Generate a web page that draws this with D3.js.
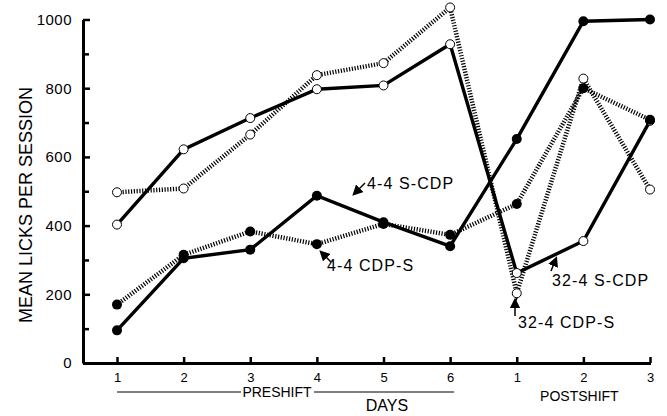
<!DOCTYPE html>
<html>
<head>
<meta charset="utf-8">
<script src="https://cdn.jsdelivr.net/npm/d3@7"></script>
<style>
	body { margin: 0; background: #fff; }
	svg { font-family: "Liberation Sans", Arial, sans-serif; }
</style>
</head>
<body>
<div id="chart"></div>
<script>
// Days: six preshift, three postshift
var dayLabels = ["1", "2", "3", "4", "5", "6", "1", "2", "3"];
var yTicks = [0, 200, 400, 600, 800, 1000];
var yMinorTicks = [100, 300, 500, 700, 900];

// Mean licks per session, one array per group
var s44SCDP = [95, 305, 330, 487, 410, 340, 652, 995, 1000];
var s44CDPS = [170, 315, 383, 346, 405, 373, 463, 800, 708];
var s324SCDP = [403, 622, 713, 797, 808, 928, 262, 355, 705];
var s324CDPS = [497, 508, 665, 838, 873, 1035, 203, 828, 505];

var series = [
	{ name: "32-4 CDP-S", values: s324CDPS, dotted: true, open: true },
	{ name: "32-4 S-CDP", values: s324SCDP, dotted: false, open: true },
	{ name: "4-4 CDP-S", values: s44CDPS, dotted: true, open: false },
	{ name: "4-4 S-CDP", values: s44SCDP, dotted: false, open: false }
];

(function(){
	var width = 667, height = 416;

	var svg = d3.select("#chart").append("svg")
		.attr("width", width)
		.attr("height", height);

	// arrow head
	svg.append("defs").append("marker")
		.attr("id", "head")
		.attr("viewBox", "0 0 10 10")
		.attr("refX", 5).attr("refY", 5)
		.attr("markerWidth", 7).attr("markerHeight", 7)
		.attr("orient", "auto-start-reverse")
		.append("path")
		.attr("d", "M0,0 L10,5 L0,10 z")
		.attr("fill", "#000");

	var x = d3.scaleLinear().domain([0, dayLabels.length - 1]).range([117, 650]);
	var y = d3.scaleLinear().domain([0, 1000]).range([363, 19.5]);

	// Y axis
	var yAxis = svg.append("g")
		.attr("transform", "translate(83,0)")
		.call(d3.axisLeft(y).tickValues(yTicks).tickFormat(d3.format("d"))
			.tickSizeInner(-7).tickSizeOuter(0).tickPadding(11));
	svg.append("g")
		.attr("transform", "translate(83,0)")
		.call(d3.axisLeft(y).tickValues(yMinorTicks).tickSizeInner(-6).tickSizeOuter(0).tickFormat(""))
		.select(".domain").remove();

	// X axis
	var xAxis = svg.append("g")
		.attr("transform", "translate(0,363)")
		.call(d3.axisBottom(x).tickValues(d3.range(dayLabels.length))
			.tickFormat(function(d){ return dayLabels[d]; })
			.tickSizeInner(-6).tickSizeOuter(0).tickPadding(10));
	xAxis.select(".domain").attr("d", "M83,0.5H651");

	svg.selectAll(".domain").attr("stroke-width", 3).attr("stroke", "#000");
	svg.selectAll(".tick line").attr("stroke-width", 2.5).attr("stroke", "#000");
	svg.selectAll(".tick text").attr("font-size", 13).attr("fill", "#000");
	yAxis.selectAll(".tick text").attr("font-size", 15).attr("letter-spacing", 0.5);

	// Y axis title
	svg.append("text")
		.attr("transform", "translate(32,205) rotate(-90)")
		.attr("text-anchor", "middle")
		.attr("font-size", 18)
		.text("MEAN LICKS PER SESSION");

	// PRESHIFT / DAYS / POSTSHIFT
	svg.append("line").attr("x1", x(0)).attr("x2", 241).attr("y1", 392).attr("y2", 392)
		.attr("stroke", "#000").attr("stroke-width", 1.2);
	svg.append("line").attr("x1", 314).attr("x2", x(5) + 4).attr("y1", 392).attr("y2", 392)
		.attr("stroke", "#000").attr("stroke-width", 1.2);
	svg.append("text").attr("x", 277).attr("y", 397).attr("text-anchor", "middle")
		.attr("font-size", 14).text("PRESHIFT");
	svg.append("text").attr("x", 387).attr("y", 411).attr("text-anchor", "middle")
		.attr("font-size", 16).text("DAYS");
	svg.append("text").attr("x", x(7) - 4).attr("y", 401).attr("text-anchor", "middle")
		.attr("font-size", 14).text("POSTSHIFT");

	// Lines
	var line = d3.line()
		.x(function(d, i){ return x(i); })
		.y(function(d){ return y(d); });

	series.forEach(function(s){
		svg.append("path")
			.datum(s.values)
			.attr("fill", "none")
			.attr("stroke", "#000")
			.attr("stroke-width", s.dotted ? 4.5 : 3.4)
			.attr("stroke-dasharray", s.dotted ? "1.2,1.6" : null)
			.attr("d", line);
	});

	// Markers
	series.forEach(function(s){
		svg.append("g").selectAll("circle")
			.data(s.values)
			.enter().append("circle")
			.attr("cx", function(d, i){ return x(i); })
			.attr("cy", function(d){ return y(d); })
			.attr("r", s.open ? 4.5 : 5)
			.attr("fill", s.open ? "#fff" : "#000")
			.attr("stroke", "#000")
			.attr("stroke-width", s.open ? 1 : 0);
	});

	// Labels with arrows
	var notes = [
		{ text: "4-4 S-CDP", tx: 367, ty: 189, ax1: 365, ay1: 183, ax2: 356, ay2: 192 },
		{ text: "4-4 CDP-S", tx: 327, ty: 271, ax1: 331, ay1: 262, ax2: 323, ay2: 254 },
		{ text: "32-4 S-CDP", tx: 552, ty: 286, ax1: 551, ay1: 271, ax2: 555, ay2: 261 },
		{ text: "32-4 CDP-S", tx: 518, ty: 328, ax1: 515, ay1: 316, ax2: 515, ay2: 303 }
	];
	notes.forEach(function(n){
		svg.append("text").attr("x", n.tx).attr("y", n.ty)
			.attr("font-size", 16).attr("letter-spacing", 1.1).text(n.text);
		svg.append("line")
			.attr("x1", n.ax1).attr("y1", n.ay1)
			.attr("x2", n.ax2).attr("y2", n.ay2)
			.attr("stroke", "#000").attr("stroke-width", 1.5)
			.attr("marker-end", "url(#head)");
	});
})();
</script>
</body>
</html>
